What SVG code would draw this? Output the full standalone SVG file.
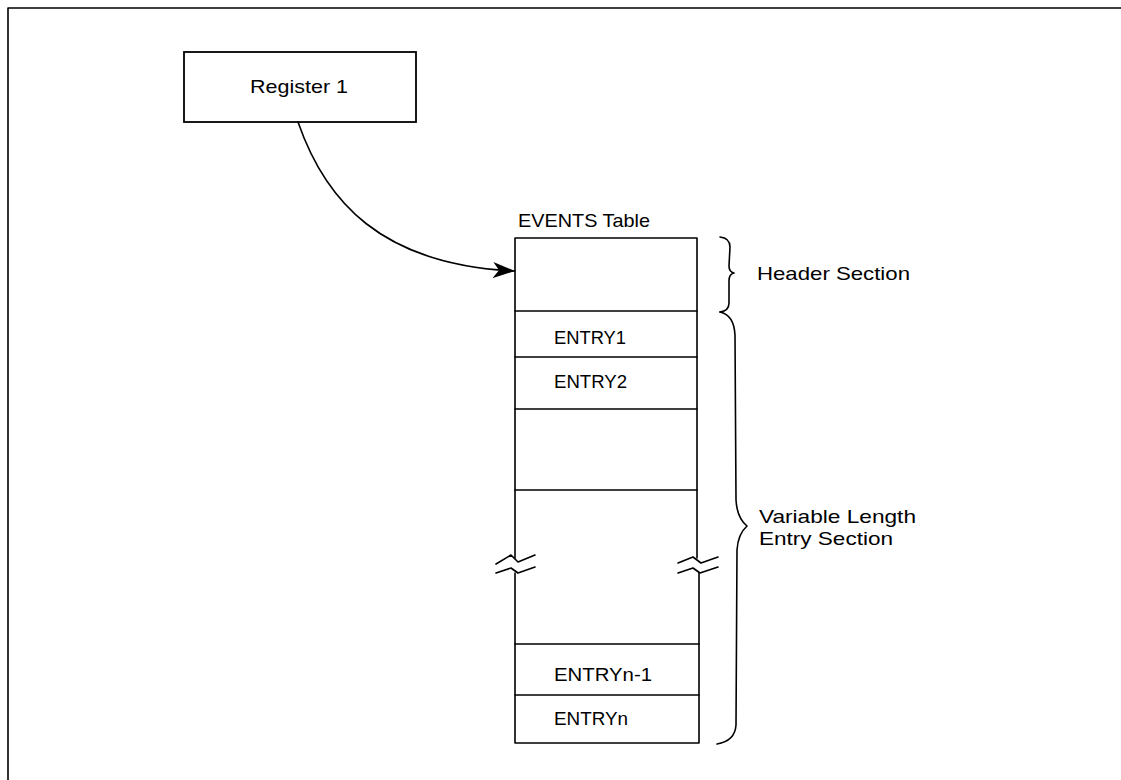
<svg xmlns="http://www.w3.org/2000/svg" width="1121" height="780" viewBox="0 0 1121 780">
<style>
.ln{fill:none;stroke:#000;stroke-width:1.6;stroke-linejoin:round;stroke-linecap:round}
.bx{fill:#fff;stroke:#000;stroke-width:1.8}
.t{font-family:"Liberation Sans",Arial,sans-serif;font-size:18.5px;fill:#000}
</style>
<defs>
<marker id="ah" viewBox="0 0 22 16" refX="22" refY="8" markerWidth="22" markerHeight="16" markerUnits="userSpaceOnUse" orient="auto">
<path d="M0,0 L22,8 L0,16 L6,8 Z" fill="#000"/>
</marker>
</defs>
<rect width="1121" height="780" fill="#fff"/>
<g id="frame">
<path class="ln" d="M8,780 L8,8 L1121,8" stroke-width="2"/>
</g>
<g id="register1">
<rect class="bx" x="184" y="52" width="232" height="70"/>
<text class="t" x="250" y="93" textLength="98" lengthAdjust="spacingAndGlyphs">Register 1</text>
</g>
<g id="events-table">
<text class="t" x="518" y="227" textLength="132" lengthAdjust="spacingAndGlyphs">EVENTS Table</text>
<path class="ln" d="M515,558 L515,238 L697,238 L697,558"/>
<path class="ln" d="M515,573 L515,743 L699,743 L699,573"/>
<path class="ln" d="M515,311 L697,311 M515,357 L697,357 M515,409 L697,409 M515,490 L697,490 M515,644 L699,644 M515,695 L699,695"/>
<path class="ln" d="M496,564 L511,555 L518,562 L535,555 M496,573 L511,568 L518,573 L535,567"/>
<path class="ln" d="M678,563 L693,557 L701,563 L718,557 M678,573 L693,568 L700,573 L718,567"/>
<text class="t" x="554" y="344" textLength="72" lengthAdjust="spacingAndGlyphs">ENTRY1</text>
<text class="t" x="554" y="388" textLength="73" lengthAdjust="spacingAndGlyphs">ENTRY2</text>
<text class="t" x="554" y="681" textLength="98" lengthAdjust="spacingAndGlyphs">ENTRYn-1</text>
<text class="t" x="554" y="725" textLength="74" lengthAdjust="spacingAndGlyphs">ENTRYn</text>
</g>
<g id="header-section">
<path class="ln" d="M720,237 Q730,238 730,247 L729,266 Q729,272 734,273 Q729,274 729,281 L729,303 Q729,311 720,312"/>
<text class="t" x="757" y="280" textLength="153" lengthAdjust="spacingAndGlyphs">Header Section</text>
</g>
<g id="entry-section">
<path class="ln" d="M720,312 Q734,315 735,335 L736,500 Q737,518 747,526 Q738,534 737,550 L736,725 Q735,741 717,744"/>
<text class="t" x="759" y="523" textLength="157" lengthAdjust="spacingAndGlyphs">Variable Length</text>
<text class="t" x="759" y="545" textLength="134" lengthAdjust="spacingAndGlyphs">Entry Section</text>
</g>
<g id="connectors">
<path class="ln" d="M298,122 C325,200 380,265 515,271" marker-end="url(#ah)"/>
</g>
</svg>
